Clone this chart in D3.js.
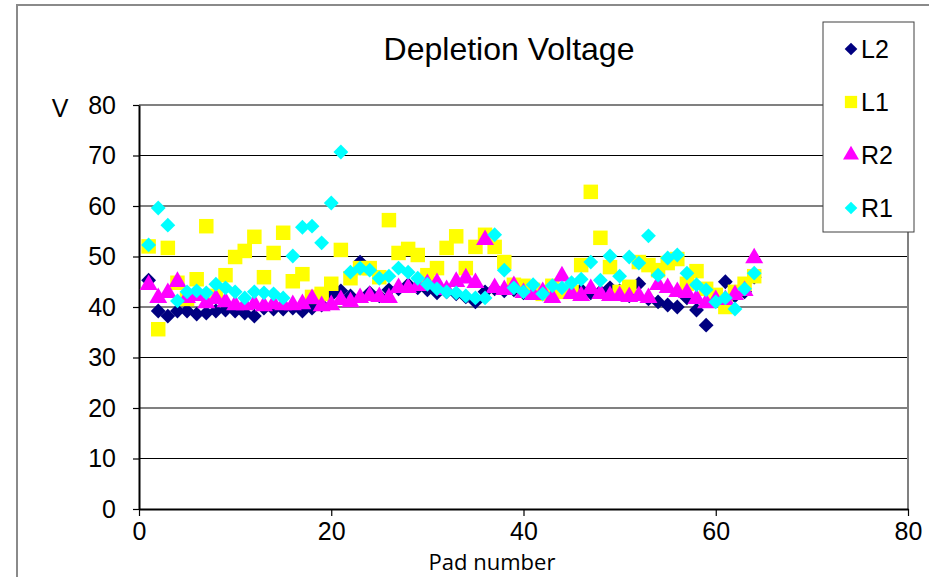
<!DOCTYPE html>
<html>
<head>
<meta charset="utf-8">
<script src="https://cdn.jsdelivr.net/npm/d3@7"></script>
<style>
  body { margin: 0; background: #fff; }
  svg { display: block; font-family: "Liberation Sans", Arial, sans-serif; }
</style>
</head>
<body>
<div id="chart"></div>
<script>
// pad numbers 1..64
var pads = d3.range(1, 65);

var L2 = [45.3, 39.2, 38.2, 39.2, 39.2, 38.6, 38.8, 39.2, 39.4, 39.2,
          38.8, 38.2, 39.8, 39.6, 39.6, 39.8, 39.2, 39.8, 40.4, 42.4,
          43.2, 42.2, 48.9, 42.8, 42.2, 43.4, 43.6, 44.4, 43.8, 43.4,
          42.8, 43.0, 42.6, 42.0, 41.0, 43.0, 43.6, 43.2, 43.4, 42.8,
          43.2, 42.6, 43.6, 43.2, 43.2, 43.4, 42.8, 43.0, 43.8, 43.2,
          42.2, 44.6, 41.6, 41.0, 40.4, 40.0, 41.8, 39.4, 36.4, 41.4,
          45.0, 42.2, 43.0, 45.9];

var L1 = [52.0, 35.6, 51.7, 44.8, 41.6, 45.5, 56.0, 42.2, 46.3, 49.9,
          51.1, 53.9, 45.9, 50.7, 54.7, 45.1, 46.5, 42.0, 42.6, 44.6,
          51.3, 45.7, 47.7, 47.7, 45.9, 57.2, 50.7, 51.5, 50.3, 46.3,
          47.7, 51.7, 54.0, 47.7, 51.9, 54.3, 51.9, 48.9, 44.4, 44.2,
          43.4, 42.6, 44.2, 43.0, 43.0, 48.3, 62.8, 53.7, 47.9, 43.0,
          44.0, 48.9, 48.3, 47.3, 48.7, 49.5, 44.6, 47.1, 43.6, 42.4,
          40.0, 43.0, 44.6, 46.1];

var R2 = [44.4, 41.8, 42.8, 45.0, 41.8, 42.2, 40.8, 41.6, 41.0, 40.4,
          40.4, 40.6, 40.2, 40.6, 40.4, 40.4, 40.6, 41.6, 40.2, 40.4,
          41.4, 41.0, 41.8, 42.2, 42.0, 41.8, 43.8, 43.8, 44.2, 44.6,
          44.8, 43.4, 45.0, 45.7, 44.8, 53.3, 43.8, 43.4, 44.2, 42.8,
          42.4, 43.0, 41.8, 46.1, 42.6, 42.2, 43.6, 42.6, 42.2, 42.2,
          42.0, 42.2, 41.8, 44.4, 43.8, 43.0, 42.8, 41.6, 40.8, 41.4,
          41.4, 42.4, 43.2, 49.7];

var R1 = [52.3, 59.6, 56.2, 41.2, 43.0, 43.2, 42.8, 44.5, 43.8, 43.0,
          41.8, 43.0, 42.8, 42.6, 41.8, 50.1, 55.8, 56.0, 52.7, 60.6,
          70.7, 46.9, 47.7, 47.3, 45.7, 46.1, 47.7, 46.9, 45.7, 44.5,
          43.6, 43.0, 42.8, 42.2, 41.8, 41.8, 54.3, 47.3, 43.8, 43.0,
          44.4, 42.6, 44.2, 43.8, 44.8, 45.5, 48.9, 45.3, 50.1, 46.1,
          49.9, 48.7, 54.1, 46.3, 49.7, 50.3, 46.7, 44.4, 43.4, 41.0,
          41.8, 39.6, 43.6, 46.7];

var seriesNames = ["L2", "L1", "R2", "R1"];
var seriesColors = ["#000080", "#ffff00", "#ff00ff", "#00ffff"];
var seriesShapes = ["diamond", "square", "triangle", "diamond"];
var xTicks = [0, 20, 40, 60, 80];
var yTicks = [0, 10, 20, 30, 40, 50, 60, 70, 80];

function init() {
    var W = 929, H = 577;
    var plot = { left: 139, right: 908, top: 105, bottom: 509 };

    var svg = d3.select("#chart").append("svg")
        .attr("width", W).attr("height", H);

    // outer chart frame
    svg.append("path")
        .attr("d", "M17," + H + "V5H" + W)
        .attr("fill", "none")
        .attr("stroke", "#8a8a8a")
        .attr("stroke-width", 2);

    var x = d3.scaleLinear().domain([0, 80]).range([plot.left, plot.right]);
    var y = d3.scaleLinear().domain([0, 80]).range([plot.bottom, plot.top]);

    // gridlines (alternating look of the original)
    svg.append("g").selectAll("line")
        .data(yTicks.filter(function(d) { return d > 0; }))
        .enter().append("line")
        .attr("x1", plot.left).attr("x2", plot.right)
        .attr("y1", function(d) { return y(d); })
        .attr("y2", function(d) { return y(d); })
        .attr("stroke", function(d) { return d % 20 === 0 ? "#808080" : "#000"; })
        .attr("stroke-width", function(d) { return d % 20 === 0 ? 2 : 1.2; });

    // right border of plot area
    svg.append("line")
        .attr("x1", plot.right).attr("x2", plot.right)
        .attr("y1", plot.top).attr("y2", plot.bottom)
        .attr("stroke", "#808080").attr("stroke-width", 2);

    // axes
    var xAxis = d3.axisBottom(x).tickValues(xTicks).tickSize(7).tickSizeOuter(0);
    var yAxis = d3.axisLeft(y).tickValues(yTicks).tickSize(6).tickSizeOuter(0);

    var gx = svg.append("g")
        .attr("transform", "translate(0," + plot.bottom + ")")
        .call(xAxis);
    gx.select(".domain").attr("stroke", "#000").attr("stroke-width", 2);
    gx.selectAll(".tick line").attr("stroke", "#000").attr("stroke-width", 1.2);
    gx.selectAll(".tick text")
        .attr("y", 13).attr("font-size", 25).attr("fill", "#000")
        .style("font-family", "'Liberation Sans', Arial, sans-serif");

    var gy = svg.append("g")
        .attr("transform", "translate(" + plot.left + ",0)")
        .call(yAxis);
    gy.select(".domain").attr("stroke", "#000").attr("stroke-width", 2);
    gy.selectAll(".tick line").attr("stroke", "#000").attr("stroke-width", 1.2);
    gy.selectAll(".tick text")
        .attr("x", -23).attr("font-size", 25).attr("fill", "#000")
        .style("font-family", "'Liberation Sans', Arial, sans-serif");

    // labels
    svg.append("text")
        .attr("x", 509).attr("y", 60)
        .attr("text-anchor", "middle")
        .attr("font-size", 32)
        .text("Depletion Voltage");

    svg.append("text")
        .attr("x", 60).attr("y", 117)
        .attr("text-anchor", "middle")
        .attr("font-size", 25)
        .text("V");

    svg.append("text")
        .attr("x", 492).attr("y", 570)
        .attr("text-anchor", "middle")
        .attr("font-size", 22)
        .style("font-family", "'Liberation Sans Narrow', 'Open Sans', sans-serif")
        .text("Pad number");

    var symbolFor = {
        diamond: d3.symbol().type(d3.symbolSquare).size(110),
        square: d3.symbol().type(d3.symbolSquare).size(210),
        triangle: d3.symbol().type(d3.symbolTriangle).size(140)
    };

    function markerPath(shape) {
        return symbolFor[shape]();
    }
    function markerRotate(shape) {
        return shape === "diamond" ? " rotate(45)" : "";
    }

    var allData = [L2, L1, R2, R1];

    allData.forEach(function(values, si) {
        svg.append("g")
            .selectAll("path")
            .data(values)
            .enter()
            .append("path")
            .attr("d", markerPath(seriesShapes[si]))
            .attr("transform", function(d, i) {
                return "translate(" + x(pads[i]) + "," + y(d) + ")" + markerRotate(seriesShapes[si]);
            })
            .attr("fill", seriesColors[si]);
    });

    // legend
    svg.append("rect")
        .attr("x", 823).attr("y", 22)
        .attr("width", 91).attr("height", 210)
        .attr("fill", "#fff")
        .attr("stroke", "#404040").attr("stroke-width", 1);

    var legendSym = {
        diamond: d3.symbol().type(d3.symbolSquare).size(80),
        square: d3.symbol().type(d3.symbolSquare).size(150),
        triangle: d3.symbol().type(d3.symbolTriangle).size(110)
    };

    var legend = svg.selectAll(".legend")
        .data(seriesNames)
        .enter()
        .append("g")
        .attr("class", "legend")
        .attr("transform", function(d, i) {
            return "translate(851," + (49 + i * 53) + ")";
        });

    legend.append("path")
        .attr("d", function(d, i) { return legendSym[seriesShapes[i]](); })
        .attr("transform", function(d, i) { return markerRotate(seriesShapes[i]).trim(); })
        .attr("fill", function(d, i) { return seriesColors[i]; });

    legend.append("text")
        .attr("x", 10)
        .attr("y", 9)
        .attr("font-size", 25)
        .text(function(d) { return d; });
}

window.onload = init;
</script>
</body>
</html>
